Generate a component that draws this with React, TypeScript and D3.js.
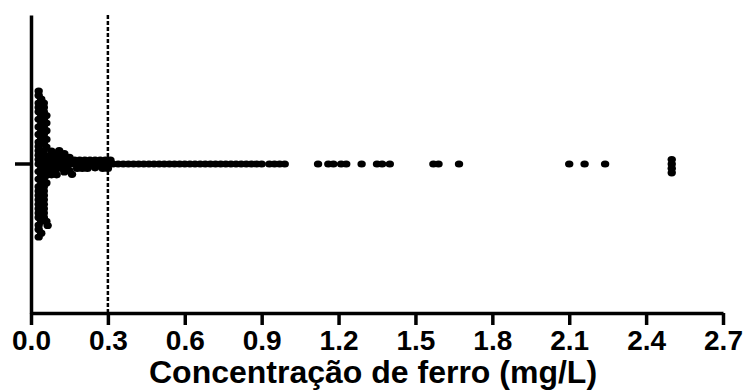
import * as d3 from "d3";
import { useEffect, useRef } from "react";

// iron values (mg/L), grouped by region of the swarm
// (listed in the order the points are laid out, which mixes the low values in the column)
const nearLimit = [
  0.03, 0.05, 0.03, 0.04, 0.05, 0.06, 0.03, 0.05, 0.03, 0.04,
  0.05, 0.03, 0.06, 0.03, 0.05, 0.03, 0.04, 0.05, 0.03, 0.06,
  0.03, 0.05, 0.04, 0.03, 0.05, 0.03, 0.06, 0.05, 0.03, 0.04,
  0.05, 0.03, 0.03, 0.05, 0.06, 0.03, 0.04, 0.05, 0.03, 0.05,
  0.03, 0.06, 0.05, 0.03, 0.04, 0.05, 0.03, 0.05, 0.06, 0.03,
  0.05, 0.03, 0.04, 0.05, 0.03, 0.06, 0.03, 0.05, 0.04, 0.03, 0.05, 0.03,
  0.04, 0.03, 0.05, 0.03,
];
const moderate = [
  0.06, 0.065, 0.07, 0.07, 0.075, 0.075, 0.08, 0.08, 0.085, 0.09, 0.09, 0.095, 0.1, 0.1,
  0.105, 0.11, 0.11, 0.12, 0.12, 0.125, 0.13, 0.13, 0.14, 0.14, 0.15, 0.15, 0.16, 0.16,
  0.17, 0.18, 0.18, 0.19, 0.2, 0.2, 0.21, 0.22, 0.22, 0.23, 0.24, 0.25, 0.25, 0.26,
  0.27, 0.28, 0.28, 0.29, 0.3, 0.3, 0.31, 0.32,
];
const aboveLimit = [
  0.34, 0.36, 0.38, 0.4, 0.42, 0.44, 0.46, 0.48, 0.5, 0.52, 0.54, 0.56, 0.58, 0.6, 0.62,
  0.64, 0.66, 0.68, 0.7, 0.72, 0.74, 0.76, 0.78, 0.8, 0.82, 0.84, 0.86, 0.88, 0.9, 0.93,
  0.95, 0.97, 0.99,
];
const high = [
  1.12, 1.16, 1.18, 1.21, 1.23, 1.29, 1.35, 1.37, 1.4, 1.57, 1.59, 1.67, 2.1, 2.16, 2.24,
];
const capped = [2.5, 2.5, 2.5, 2.5];

const xTicks = [0, 0.3, 0.6, 0.9, 1.2, 1.5, 1.8, 2.1, 2.4, 2.7];
const limitValue = 0.3;
const groups = [""];
const axisTitle = "Concentração de ferro (mg/L)";

type Dot = { v: number; px: number; py: number };

// simple beeswarm: each point, in the order given, takes the free spot nearest the centre line
function swarm(values: number[], x: d3.ScaleLinear<number, number>, cx: number, cy: number) {
  const placed: Dot[] = [];
  values.forEach((v, i) => {
    const px = x(v);
    const near = placed.filter(p => Math.abs(p.px - px) < 2 * cx);
    const cands = [0];
    near.forEach(p => {
      const dx = (p.px - px) / (2 * cx);
      const dy = 2 * cy * Math.sqrt(Math.max(0, 1 - dx * dx));
      cands.push(p.py + dy, p.py - dy);
    });
    const side = i % 2 === 0 ? 1 : -1;
    cands.sort((a, b) => Math.abs(a) - Math.abs(b) || (a - b) * side);
    const ok = (y: number) =>
      near.every(p => ((p.px - px) / (2 * cx)) ** 2 + ((p.py - y) / (2 * cy)) ** 2 >= 0.999);
    const py = cands.find(ok) ?? 0;
    placed.push({ v, px, py });
  });
  return placed;
}

export default function App() {
  const svgRef = useRef<SVGSVGElement | null>(null);
  useEffect(() => {
    if (!svgRef.current) return;
    draw(svgRef.current);
  }, []);
  return (
    <svg
      ref={svgRef}
      width={744}
      height={392}
      style={{ position: "absolute", left: 0, top: 0, background: "#fff" }}
    />
  );
}

function draw(svgElement: SVGSVGElement) {
  const svg = d3.select(svgElement);
  svg.selectAll("*").remove();

  const left = 31, right = 723, top = 15, bottom = 313;

  const x = d3.scaleLinear().domain([0, 2.7]).range([left, right]);
  const y = d3.scaleBand().domain(groups).range([bottom, top]);
  const yMid = y("")! + y.bandwidth() / 2;

  const all = [...nearLimit, ...moderate, ...aboveLimit, ...high, ...capped];
  const dots = swarm(all, x, 2.5, 2.2);

  // limit line at 0.3 mg/L
  svg.append("line")
    .attr("x1", x(limitValue))
    .attr("x2", x(limitValue))
    .attr("y1", top)
    .attr("y2", bottom)
    .attr("stroke", "#000")
    .attr("stroke-width", 2.5)
    .attr("stroke-dasharray", "4 2");

  // dots
  svg.append("g")
    .selectAll("ellipse")
    .data(dots)
    .join("ellipse")
    .attr("cx", d => d.px)
    .attr("cy", d => yMid + d.py)
    .attr("rx", 4.2)
    .attr("ry", 3.6)
    .attr("fill", "#000");

  // x axis
  const xAxis = svg.append("g")
    .attr("transform", `translate(0,${bottom})`)
    .call(
      d3.axisBottom(x)
        .tickValues(xTicks)
        .tickFormat(d3.format(".1f"))
        .tickSize(12)
        .tickSizeOuter(0)
        .tickPadding(5)
    );
  xAxis.select(".domain").attr("stroke", "#000").attr("stroke-width", 3.5);
  xAxis.selectAll(".tick line").attr("stroke", "#000").attr("stroke-width", 3.5);
  xAxis.selectAll("text")
    .style("font-family", "'Liberation Sans', Arial, sans-serif")
    .style("font-weight", "bold")
    .style("font-size", "28px")
    .style("fill", "#000");

  // y axis (single group)
  const yAxis = svg.append("g")
    .attr("transform", `translate(${left},0)`)
    .call(d3.axisLeft(y).tickSize(16).tickSizeOuter(0).tickFormat(() => ""));
  yAxis.select(".domain").attr("stroke", "#000").attr("stroke-width", 3.5);
  yAxis.selectAll(".tick line").attr("stroke", "#000").attr("stroke-width", 3.5);

  // axis title
  svg.append("text")
    .attr("x", 373)
    .attr("y", 383)
    .attr("text-anchor", "middle")
    .style("font-family", "'Liberation Sans', Arial, sans-serif")
    .style("font-weight", "bold")
    .style("font-size", "32px")
    .text(axisTitle);
}
